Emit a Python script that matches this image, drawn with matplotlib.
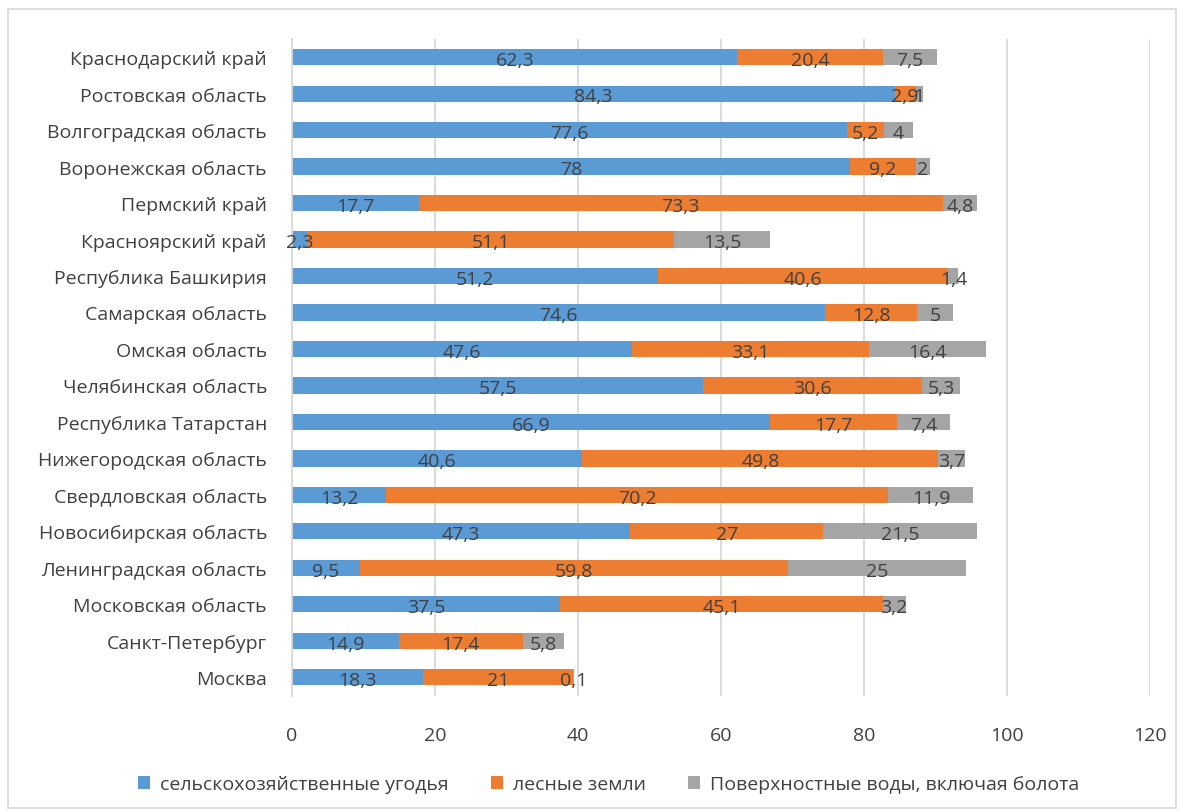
import matplotlib.pyplot as plt
import numpy as np

plt.rcParams['font.family'] = ['Open Sans', 'DejaVu Sans']

regions = ['Краснодарский край', 'Ростовская область', 'Волгоградская область',
           'Воронежская область', 'Пермский край', 'Красноярский край',
           'Республика Башкирия', 'Самарская область', 'Омская область',
           'Челябинская область', 'Республика Татарстан', 'Нижегородская область',
           'Свердловская область', 'Новосибирская область', 'Ленинградская область',
           'Московская область', 'Санкт-Петербург', 'Москва']

agri = [62.3, 84.3, 77.6, 78, 17.7, 2.3, 51.2, 74.6, 47.6, 57.5, 66.9, 40.6,
        13.2, 47.3, 9.5, 37.5, 14.9, 18.3]
forest = [20.4, 2.9, 5.2, 9.2, 73.3, 51.1, 40.6, 12.8, 33.1, 30.6, 17.7, 49.8,
          70.2, 27, 59.8, 45.1, 17.4, 21]
water = [7.5, 1, 4, 2, 4.8, 13.5, 1.4, 5, 16.4, 5.3, 7.4, 3.7,
         11.9, 21.5, 25, 3.2, 5.8, 0.1]

series = [
    ('сельскохозяйственные угодья', agri, '#5B9BD5'),
    ('лесные земли', forest, '#ED7D31'),
    ('Поверхностные воды, включая болота', water, '#A5A5A5'),
]
xticks = [0, 20, 40, 60, 80, 100, 120]

text_color = '#404040'
fs = 14

fig = plt.figure(figsize=(11.82, 8.12), dpi=100)
ax = fig.add_axes([0.247, 0.142, 0.726, 0.809])

# first region at the top
y = np.arange(len(regions))[::-1]
left = np.zeros(len(regions))
for name, vals, color in series:
    vals = np.array(vals, dtype=float)
    ax.barh(y, vals, left=left, height=0.44, color=color, label=name, zorder=2)
    for yi, l, v in zip(y, left, vals):
        txt = ('%g' % v).replace('.', ',')
        ax.text(l + v / 2, yi - 0.08, txt, ha='center', va='center',
                fontsize=fs, color=text_color, zorder=3)
    left += vals

ax.set_xlim(0, 120)
ax.set_ylim(-0.5, len(regions) - 0.5)
ax.set_xticks(xticks)
ax.set_xticklabels([str(t) for t in xticks], fontsize=fs, color=text_color)
ax.set_yticks(y)
ax.set_yticklabels(regions, fontsize=fs, color=text_color)
ax.tick_params(axis='x', length=0, pad=22)
ax.tick_params(axis='y', length=0, pad=18)
ax.xaxis.grid(True, color='#D9D9D9', linewidth=1.3, zorder=0)
for side in ['top', 'right', 'bottom']:
    ax.spines[side].set_visible(False)
ax.spines['left'].set_color('#D9D9D9')
ax.spines['left'].set_linewidth(1.3)

fig.legend(loc='lower center', ncol=3, bbox_to_anchor=(0.515, 0.0),
           frameon=False, fontsize=fs, labelcolor=text_color,
           handlelength=0.6, handleheight=0.6, handletextpad=0.5,
           columnspacing=2.2)

# chart area border
fig.patches.append(plt.Rectangle((0.007, 0.004), 0.988, 0.984, transform=fig.transFigure,
                                 fill=False, edgecolor='#D9D9D9', linewidth=1.2))

fig.savefig('out.png', dpi=100)
